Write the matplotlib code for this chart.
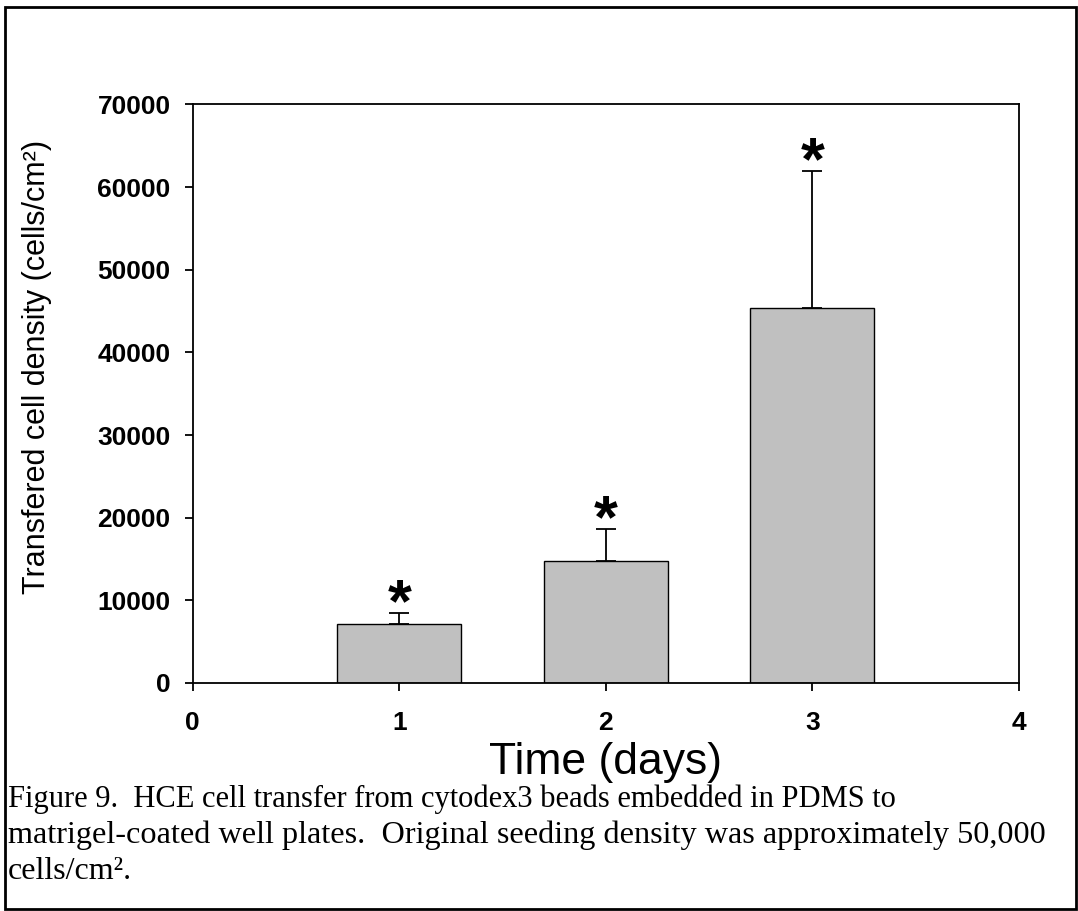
import matplotlib
matplotlib.use("Agg")
import matplotlib.pyplot as plt
from matplotlib import font_manager
from matplotlib.patches import Rectangle

# values
days = [1, 2, 3]
density = [7100, 14800, 45400]
density_err = [1400, 3800, 16600]
y_ticks = [0, 10000, 20000, 30000, 40000, 50000, 60000, 70000]
x_ticks = [0, 1, 2, 3, 4]
caption_lines = [
    "Figure 9.  HCE cell transfer from cytodex3 beads embedded in PDMS to",
    "matrigel-coated well plates.  Original seeding density was approximately 50,000",
    "cells/cm\u00b2.",
]

sans = "Liberation Sans"
serif = "Liberation Serif"

# the y title in the original looks condensed; use the narrow face if present
try:
    font_manager.findfont("Liberation Sans Narrow", fallback_to_default=False)
    narrow = "Liberation Sans Narrow"
    ylab_size = 25
except ValueError:
    narrow = sans
    ylab_size = 22

fig = plt.figure(figsize=(10.78, 9.11), dpi=100)
ax = fig.add_axes([0.1788, 0.2503, 0.7665, 0.635])

ax.bar(days, density, width=0.6, color="#c0c0c0", edgecolor="black", linewidth=1.0, zorder=2)
ax.errorbar(days, density, yerr=[[0] * len(days), density_err], fmt="none",
            ecolor="black", elinewidth=1.3, capsize=7, capthick=1.3, zorder=3)

# significance stars above the error caps
for x, y, e in zip(days, density, density_err):
    ax.annotate("*", xy=(x, y + e), xytext=(0, -6), textcoords="offset points",
                ha="center", va="baseline", fontsize=44, fontweight="bold", family=sans)

ax.set_xlim(0, 4)
ax.set_ylim(0, 70000)
ax.set_xticks(x_ticks)
ax.set_yticks(y_ticks)
ax.set_xticklabels([str(t) for t in x_ticks], fontsize=19, fontweight="bold", family=sans)
ax.set_yticklabels([str(t) for t in y_ticks], fontsize=19, fontweight="bold", family=sans)
ax.tick_params(axis="both", direction="out", length=6, width=1.3)
ax.tick_params(axis="x", pad=14)
ax.tick_params(axis="y", pad=10)
ax.tick_params(top=False, right=False)
for s in ax.spines.values():
    s.set_linewidth(1.3)

ax.set_xlabel("Time (days)", fontsize=32, family=sans, labelpad=5)
fig.text(37 / 1078, 1 - 367 / 911, "Transfered cell density (cells/cm\u00b2)", rotation=90,
         ha="center", va="center", fontsize=ylab_size, family=narrow)

# caption under the chart
baselines = [807, 843, 879]
cap_sizes = [22, 23.2, 23]
for line, yb, fs in zip(caption_lines, baselines, cap_sizes):
    fig.text(8 / 1078, 1 - yb / 911, line, ha="left", va="baseline", fontsize=fs, family=serif)

# outer frame
fig.patches.append(Rectangle((4.5 / 1078, 2 / 911), 1 - 7 / 1078, 1 - 9 / 911,
                             transform=fig.transFigure, fill=False, edgecolor="black",
                             linewidth=2))

fig.savefig("out.png", dpi=100)
